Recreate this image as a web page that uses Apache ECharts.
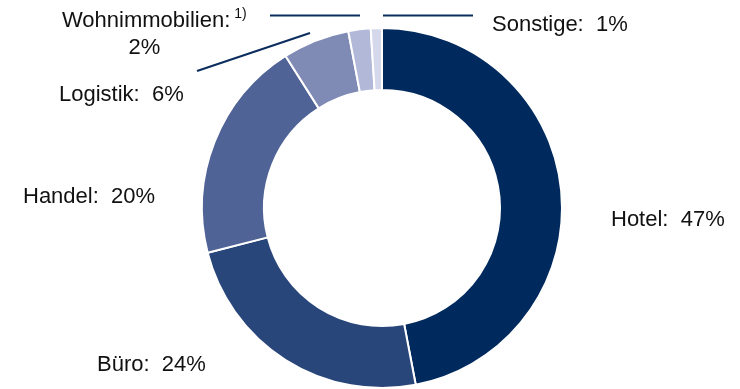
<!DOCTYPE html>
<html>
<head>
<meta charset="utf-8">
<script src="https://cdn.jsdelivr.net/npm/echarts@6/dist/echarts.min.js"></script>
<style>
  html, body { margin: 0; padding: 0; background: #fff; }
  #chart { width: 740px; height: 389px; }
</style>
</head>
<body>
<div id="chart"></div>
<script>
// Data
const categories = ['Hotel', 'Büro', 'Handel', 'Logistik', 'Wohnimmobilien', 'Sonstige'];
const shares = [47, 24, 20, 6, 2, 1];
const colors = ['#002a5e', '#29467a', '#506396', '#7f8ab5', '#b2b8d8', '#d5d8ea'];

// Label layout (positions are layout, not data)
const labelPos = [
  { x: 611, y: 220, align: 'left', va: 'middle' },
  { x: 97, y: 365, align: 'left', va: 'middle' },
  { x: 23, y: 196.5, align: 'left', va: 'middle' },
  { x: 59, y: 94.5, align: 'left', va: 'middle' },
  { x: 62, y: 7.5, align: 'left', va: 'top' },
  { x: 492, y: 25, align: 'left', va: 'middle' }
];

function labelText(p) {
  const name = p.name, v = p.value + '%';
  if (name === 'Wohnimmobilien') {
    return '{a|' + name + ':}{sup|1)}\n{b|' + v + '}';
  }
  if (name === 'Büro') return '{a|' + name + ':  ' + v + '}';
  return '{a|' + name + ':  ' + v + '}';
}

const chart = echarts.init(document.getElementById('chart'), null, { renderer: 'canvas' });
const font = '"Liberation Sans", Arial, sans-serif';

chart.setOption({
  animation: false,
  backgroundColor: '#fff',
  series: [{
    type: 'pie',
    center: [382, 208],
    radius: [118, 180],
    startAngle: 90,
    clockwise: true,
    avoidLabelOverlap: false,
    itemStyle: { borderColor: '#fff', borderWidth: 2 },
    label: {
      show: true,
      position: 'outside',
      formatter: labelText,
      color: '#111',
      fontFamily: font,
      fontSize: 22,
      rich: {
        a: { fontFamily: font, fontSize: 22, color: '#111', lineHeight: 27 },
        b: { fontFamily: font, fontSize: 22, color: '#111', lineHeight: 27, align: 'center', padding: [0, 20, 0, 0] },
        sup: { fontFamily: font, fontSize: 14, color: '#111', verticalAlign: 'top', lineHeight: 27, padding: [0, 0, 0, 4] }
      }
    },
    labelLine: { show: false },
    labelLayout: function (params) {
      const p = labelPos[params.dataIndex];
      return { x: p.x, y: p.y, align: p.align, verticalAlign: p.va, hideOverlap: false, moveOverlap: null };
    },
    emphasis: { disabled: true },
    data: categories.map((c, i) => ({ name: c, value: shares[i], itemStyle: { color: colors[i] } }))
  }],
  graphic: [
    { type: 'line', shape: { x1: 197, y1: 71, x2: 310, y2: 33 }, style: { stroke: '#0b2d5e', lineWidth: 2 } },
    { type: 'line', shape: { x1: 270, y1: 15.5, x2: 360, y2: 15.5 }, style: { stroke: '#0b2d5e', lineWidth: 2 } },
    { type: 'line', shape: { x1: 383, y1: 15.5, x2: 473, y2: 15.5 }, style: { stroke: '#0b2d5e', lineWidth: 2 } }
  ]
});
</script>
</body>
</html>
